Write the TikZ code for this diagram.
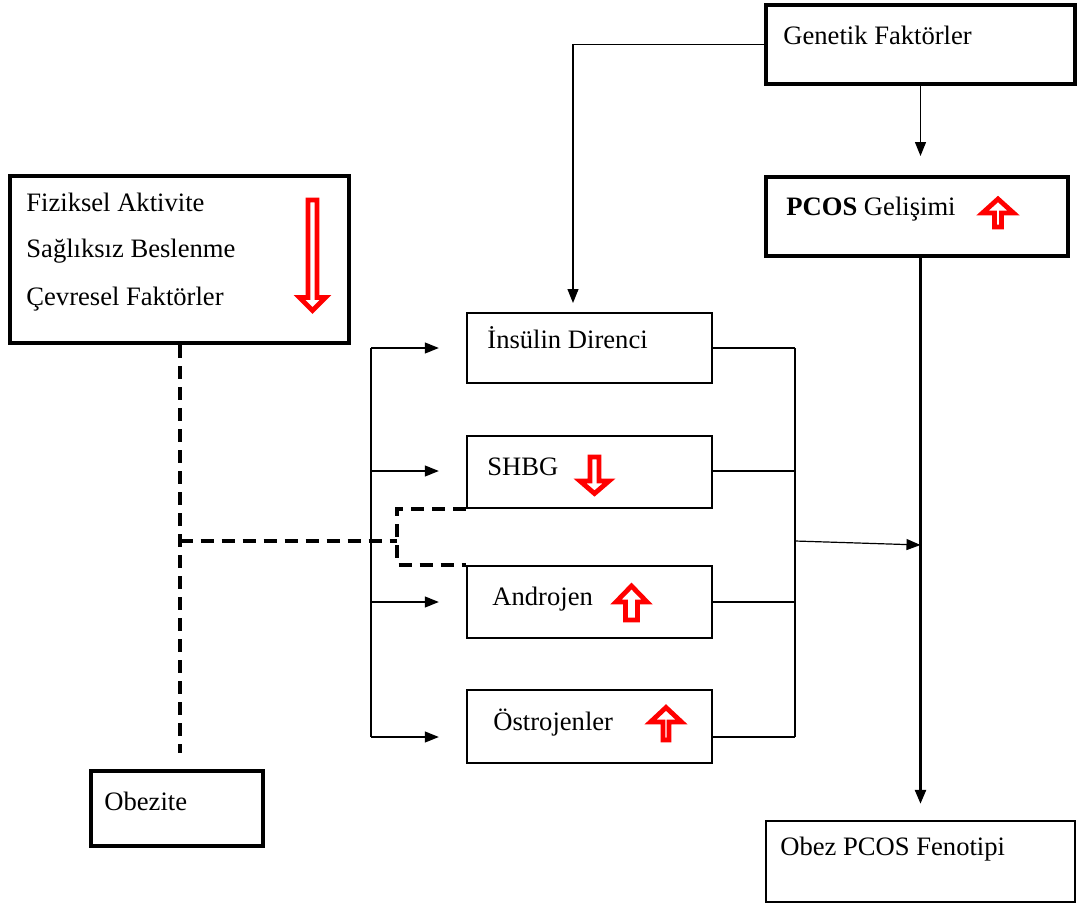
\documentclass[tikz,border=0pt]{standalone}
\usepackage{fontspec}
\setmainfont{Liberation Serif}
\usetikzlibrary{calc,positioning,arrows.meta}

\tikzset{
  thickbox/.style={draw, line width=2pt, inner sep=0pt},
  thinbox/.style={draw, line width=1.2pt, inner sep=0pt},
  lbl/.style={anchor=base west, inner sep=0pt, font=\fontsize{13.3}{16}\selectfont},
  conn/.style={line width=0.6pt},
  arr/.style={conn, -{Triangle[length=7pt,width=5.5pt]}},
  dline/.style={line width=2pt, dash pattern=on 6.5pt off 4pt},
  redarrow/.style={draw=red, line width=2.4pt, fill=white, line join=miter},
}
% tip x, tip y, direction (1 up, -1 down), length, head half, head length, shaft half
\newcommand{\hollowarrow}[7]{%
  \begin{scope}[shift={(#1,#2)}, yscale=#3]
    \draw[redarrow] (0,0) -- (#5,#6) -- (#7,#6) -- (#7,#4) -- (-#7,#4) -- (-#7,#6) -- (-#5,#6) -- cycle;
  \end{scope}}

\begin{document}
\begin{tikzpicture}[x=0.5pt, y=-0.5pt]
  \useasboundingbox (0,0) rectangle (1083,905);

  % boxes
  \node[thickbox, minimum width=154.5pt, minimum height=39.5pt] (gen) at (920.5,44.5) {};
  \node[thickbox, minimum width=151pt, minimum height=39.5pt] (pcos) at (917,216.5) {};
  \node[thickbox, minimum width=169.5pt, minimum height=83.5pt] (fiz) at (179.5,259.5) {};
  \node[thickbox, minimum width=86pt, minimum height=37.5pt] (obez) at (177,808.5) {};
  \node[thinbox, minimum width=154.5pt, minimum height=40.5pt] (fen) at (920.5,861.5) {};
  \node[thinbox, minimum width=122.5pt, minimum height=35pt] (ins) at (589.5,348) {};
  \node[thinbox, minimum width=122.5pt, minimum height=36pt] (shbg) at (589.5,472) {};
  \node[thinbox, minimum width=122.5pt, minimum height=36pt] (andr) at (589.5,602) {};
  \node[thinbox, minimum width=122.5pt, minimum height=36.5pt] (ostr) at (589.5,726.5) {};

  % texts
  \node[lbl] (gen-t) at (783,44) {Genetik Faktörler};
  \node[lbl] (pcos-t) at (786,215) {\textbf{PCOS} Gelişimi};
  \node[lbl] (fiz-t1) at (26,211) {Fiziksel Aktivite};
  \node[lbl] (fiz-t2) at (26,257) {Sağlıksız Beslenme};
  \node[lbl] (fiz-t3) at (26,305) {Çevresel Faktörler};
  \node[lbl] (ins-t) at (487,348) {İnsülin Direnci};
  \node[lbl] (shbg-t) at (487,475) {SHBG};
  \node[lbl] (andr-t) at (492,605) {Androjen};
  \node[lbl] (ostr-t) at (493,730) {Östrojenler};
  \node[lbl] (obez-t) at (104,810) {Obezite};
  \node[lbl] (fen-t) at (780,855) {Obez PCOS Fenotipi};

  % red arrows
  \hollowarrow{998}{199}{1}{28}{15.5}{14}{3.5}
  \hollowarrow{631.5}{586}{1}{34}{15.5}{16}{6}
  \hollowarrow{666}{707.5}{1}{32.5}{15.5}{14.5}{3}
  \hollowarrow{594.5}{493.5}{-1}{36.5}{14.5}{12.5}{4.5}
  \hollowarrow{312.5}{310.5}{-1}{110.5}{13}{13}{4.5}

  % genetic factors
  \coordinate (insin) at (573,303);
  \draw[arr] (gen.west) -| (insin);
  \draw[arr, shorten >=9.5pt] (gen.south) -- (gen.south |- pcos.north);
  \draw[arr, line width=1.3pt, shorten >=8pt] (pcos.south -| gen.south) -- (gen.south |- fen.north);

  % left bracket
  \coordinate (lb) at (371,0);
  \draw[conn] (lb |- 0,348) -- (lb |- 0,737);
  \foreach \b/\yy in {ins/348, shbg/471, andr/602, ostr/737}
    \draw[arr, shorten >=13.5pt] (lb |- 0,\yy) -- (\b.west |- 0,\yy);

  % right bracket
  \coordinate (rb) at (795,0);
  \draw[conn] (rb |- 0,348) -- (rb |- 0,737);
  \foreach \b/\yy in {ins/348, shbg/471, andr/602, ostr/737}
    \draw[conn] (\b.east |- 0,\yy) -- (rb |- 0,\yy);
  \draw[arr] (rb |- 0,541) -- (gen.south |- 0,545);

  % obesity (dashed)
  \coordinate (dj) at (397,541);
  \draw[dline, shorten >=8pt] (fiz.south) -- (fiz.south |- obez.north);
  \draw[dline] (fiz.south |- dj) -- (dj);
  \draw[dline] (shbg.south west) -| (dj) |- (andr.north west);
\end{tikzpicture}
\end{document}
